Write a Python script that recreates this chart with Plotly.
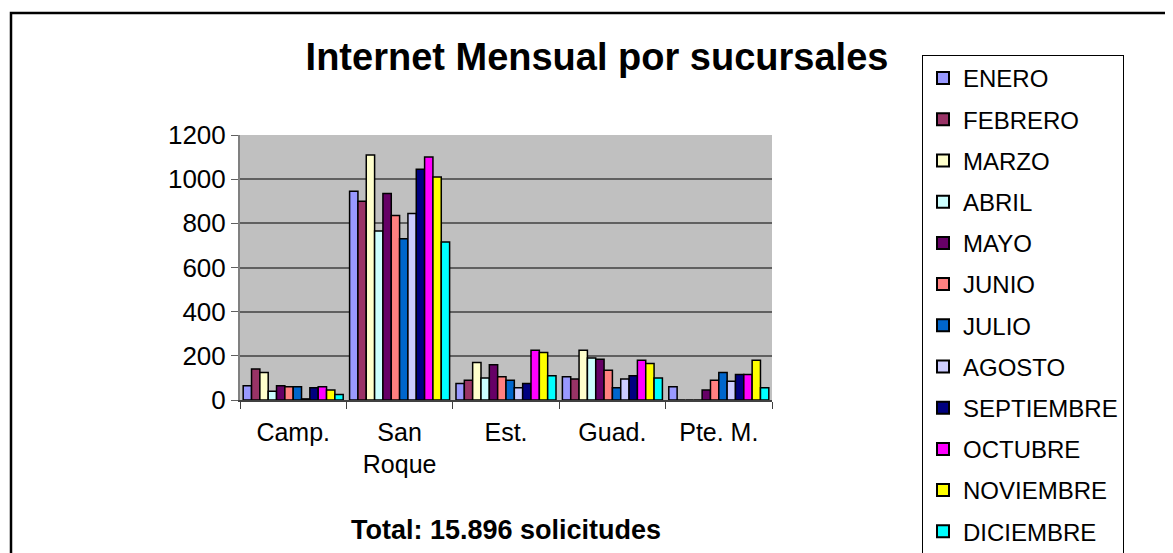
import plotly.graph_objects as go

# Page body has an 8px default margin; figure is sized to fit window.
OFF = 8
W, H = 1173 - OFF, 553 - OFF

categories = ["Camp.", "San<br>Roque", "Est.", "Guad.", "Pte. M."]
months = ["ENERO", "FEBRERO", "MARZO", "ABRIL", "MAYO", "JUNIO", "JULIO",
          "AGOSTO", "SEPTIEMBRE", "OCTUBRE", "NOVIEMBRE", "DICIEMBRE"]
colors = ["#9999FF", "#993366", "#FFFFCC", "#CCFFFF", "#660066", "#FF8080",
          "#0066CC", "#CCCCFF", "#000080", "#FF00FF", "#FFFF00", "#00FFFF"]

# values per month: [Camp., San Roque, Est., Guad., Pte. M.]
enero      = [65, 945, 75, 105, 60]
febrero    = [140, 900, 90, 95, 0]
marzo      = [125, 1110, 170, 225, 0]
abril      = [40, 765, 100, 190, 0]
mayo       = [65, 935, 160, 185, 45]
junio      = [60, 835, 105, 135, 90]
julio      = [60, 730, 90, 55, 125]
agosto     = [5, 845, 55, 95, 85]
septiembre = [55, 1045, 75, 110, 115]
octubre    = [60, 1100, 225, 180, 115]
noviembre  = [45, 1010, 215, 165, 180]
diciembre  = [25, 715, 110, 100, 55]

series = [enero, febrero, marzo, abril, mayo, junio, julio, agosto,
          septiembre, octubre, noviembre, diciembre]

y_ticks = [0, 200, 400, 600, 800, 1000, 1200]

FONT = "Liberation Sans, Arial, sans-serif"

fig = go.Figure()
for name, vals, col in zip(months, series, colors):
    fig.add_trace(go.Bar(
        name=name, x=categories, y=vals,
        marker=dict(color=col, line=dict(color="black", width=1.5)),
        legendgroup=name,
    ))

def px(x):
    return (x - OFF) / W

def py(y):
    return 1 - (y - OFF) / H

fig.update_layout(
    width=W, height=H,
    margin=dict(l=0, r=0, t=0, b=0, autoexpand=False),
    paper_bgcolor="white",
    plot_bgcolor="#C0C0C0",
    barmode="group",
    bargap=0.06,
    bargroupgap=0.0,
    font=dict(family=FONT, color="black"),
    xaxis=dict(
        domain=[px(240), px(772)],
        automargin=False,
        tickfont=dict(size=25),
        ticks="outside", tickson="boundaries", ticklen=7,
        tickcolor="#404040",
        ticklabelstandoff=9,
        showline=True, linecolor="#404040", linewidth=1.5,
        showgrid=False,
    ),
    yaxis=dict(
        domain=[py(400), py(135)],
        automargin=False,
        range=[0, 1200],
        tickvals=y_ticks,
        tickfont=dict(size=26),
        ticks="outside", ticklen=7, tickcolor="#606060",
        showline=True, linecolor="#808080", linewidth=2,
        gridcolor="#606060", gridwidth=2,
        zeroline=False,
    ),
    legend=dict(
        x=px(922), y=py(55), xanchor="left", yanchor="top",
        bordercolor="black", borderwidth=1,
        font=dict(size=24, family=FONT),
        tracegroupgap=7,
        itemsizing="constant",
        bgcolor="white",
    ),
    title=dict(
        text="<b>Internet Mensual por sucursales</b>",
        x=px(597), y=py(57), xanchor="center", yanchor="middle",
        font=dict(size=38, family=FONT),
    ),
)

fig.add_annotation(
    text="<b>Total: 15.896 solicitudes</b>",
    xref="paper", yref="paper", x=px(506), y=py(530),
    xanchor="center", yanchor="middle", showarrow=False,
    font=dict(size=27, family=FONT),
)

fig.add_shape(
    type="rect", xref="paper", yref="paper",
    x0=px(11), y0=py(600), x1=px(1200), y1=py(13),
    line=dict(color="black", width=2.5), fillcolor="rgba(0,0,0,0)",
    layer="above",
)

fig.write_html("out.html")
